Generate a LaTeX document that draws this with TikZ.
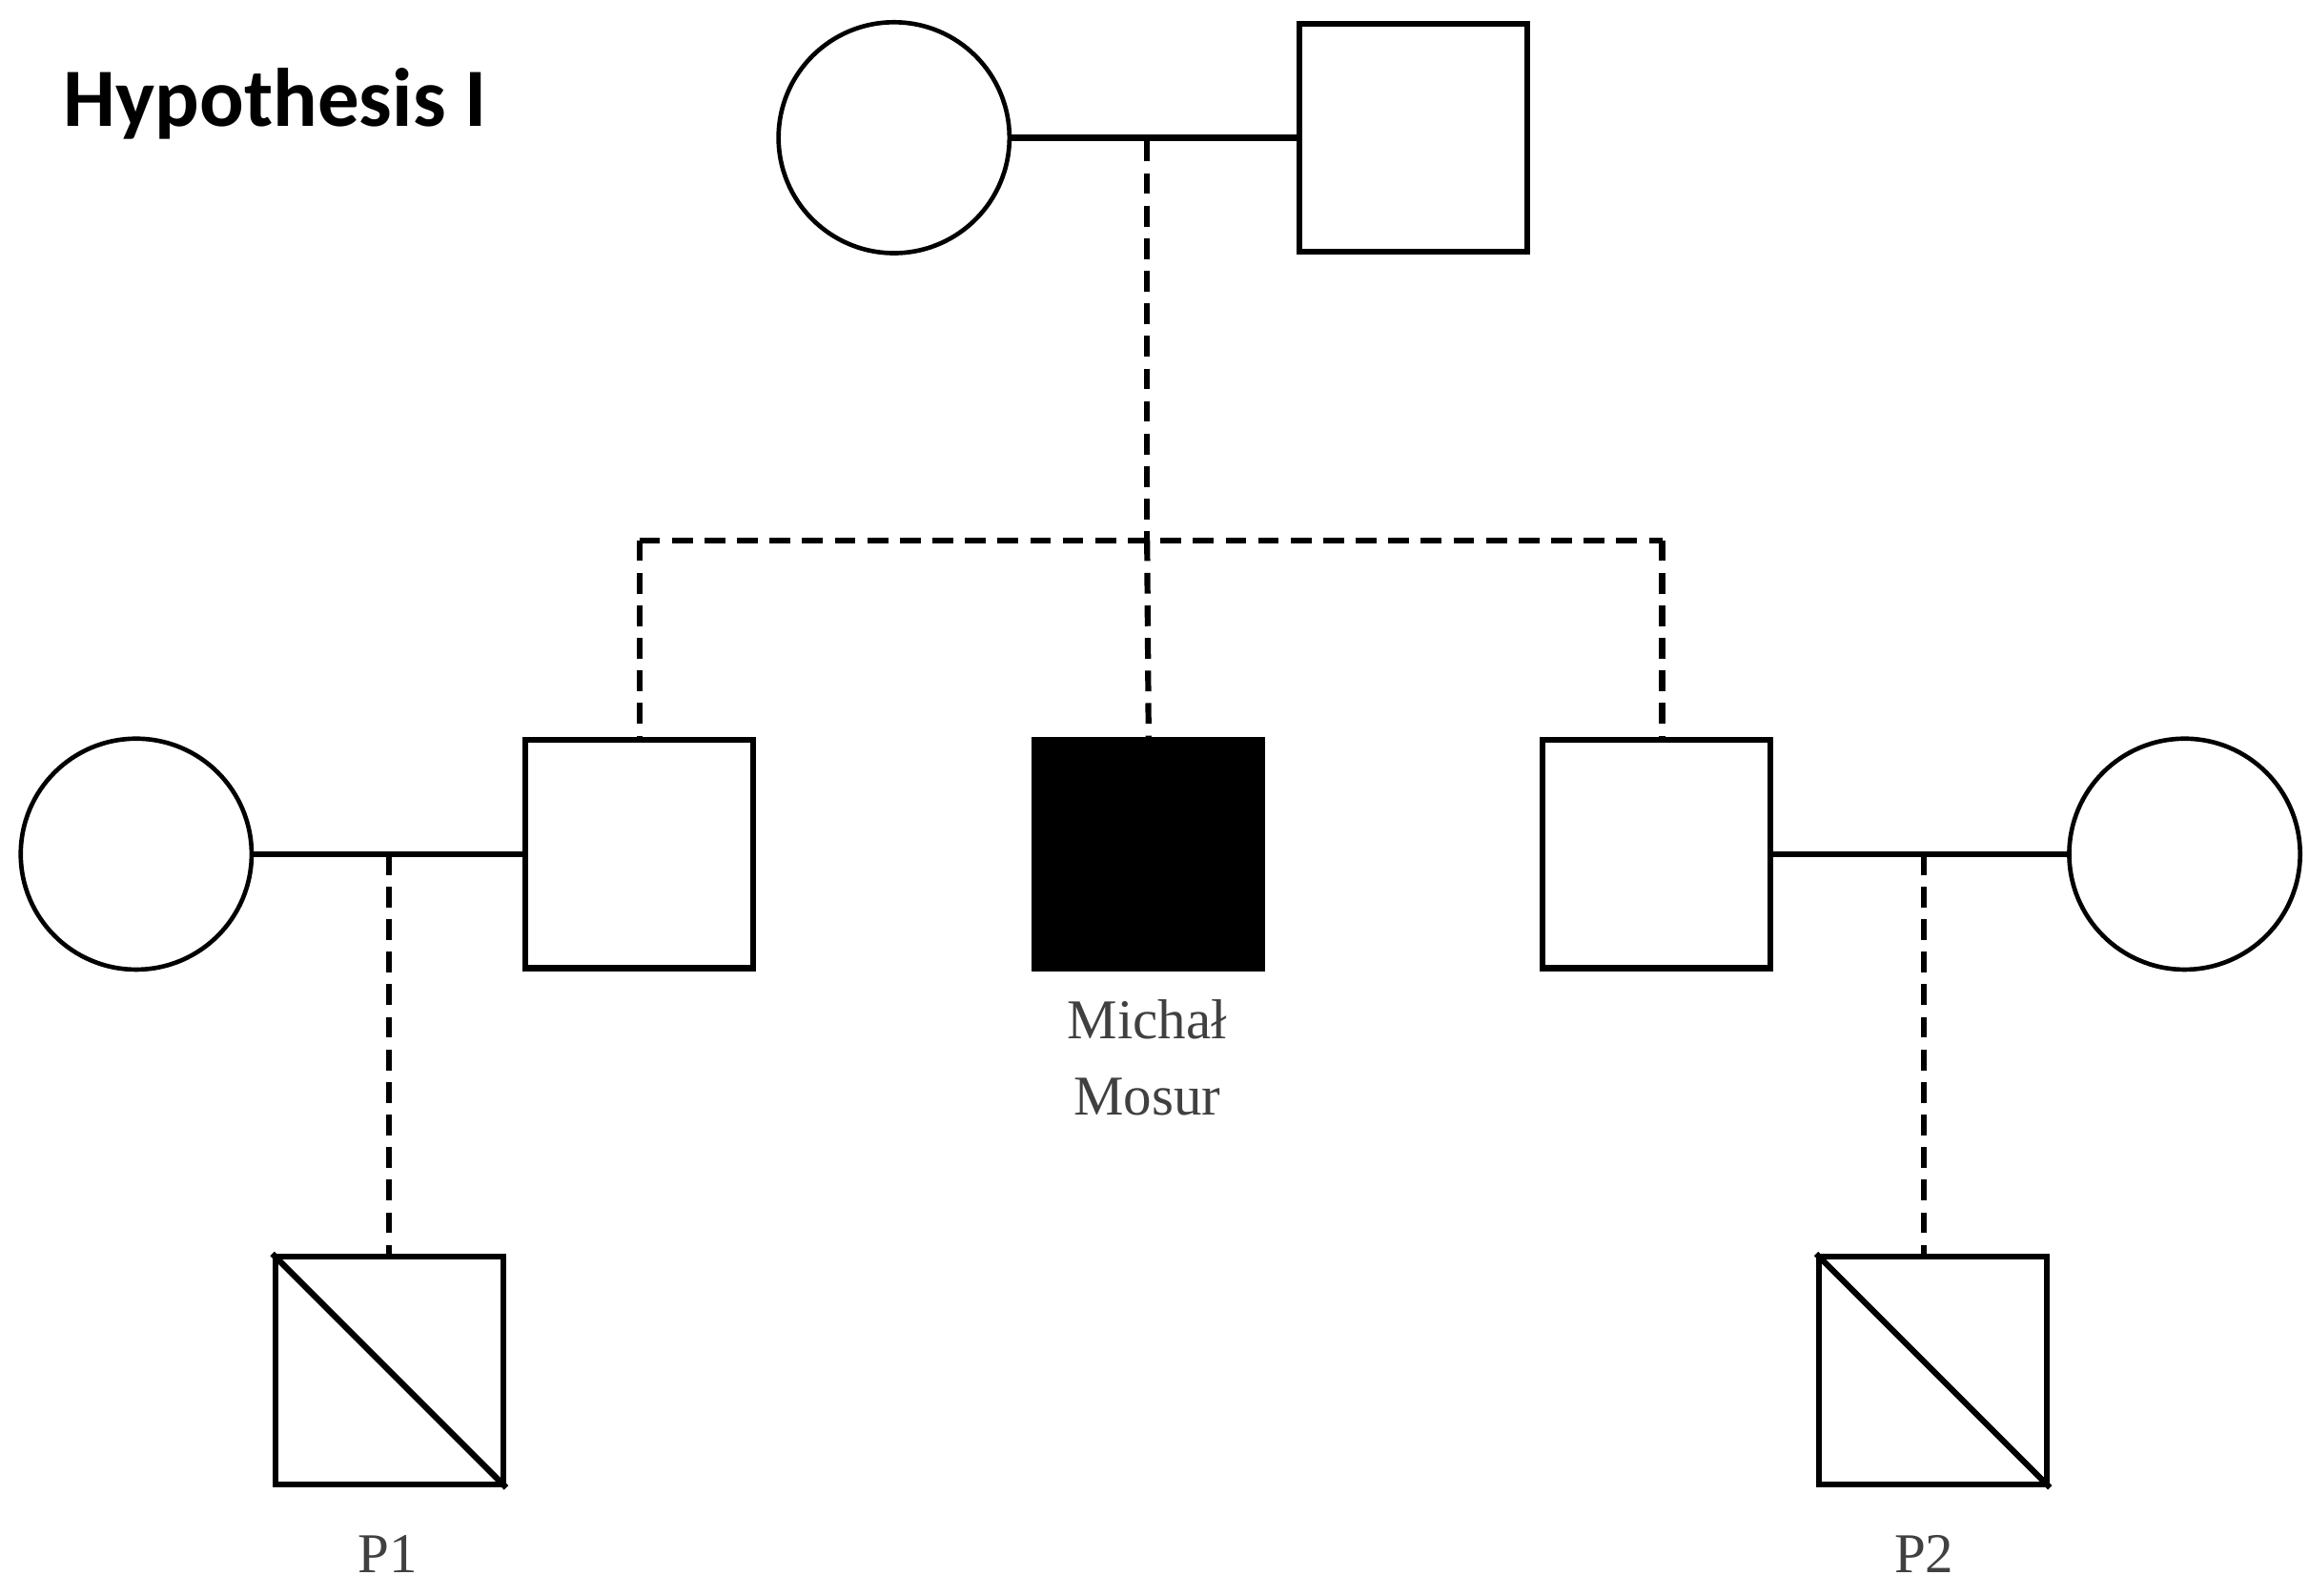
\documentclass[tikz,border=0pt]{standalone}
\usepackage{fontspec}
\setmainfont{Liberation Serif}
\newfontfamily\titlefont{Carlito}
\begin{document}
\begin{tikzpicture}[x=0.5pt,y=-0.5pt,
  ln/.style={line width=2pt},
  dl/.style={line width=2pt,dash pattern=on 7pt off 4pt},
  sq/.style={draw,line width=2pt,minimum size=77pt,inner sep=0pt},
  ci/.style={draw,circle,line width=1.5pt,minimum size=78pt,inner sep=0pt},
  lab/.style={font=\fontsize{19}{26}\selectfont,text=black!75,align=center}]
\useasboundingbox (0,0) rectangle (1560,1078);
\node[font=\titlefont\bfseries\fontsize{28}{32}\selectfont,anchor=west] (title) at (36,70) {Hypothesis I};
\node[ci] (gm) at (604,93) {};
\node[sq] (gf) at (955,93) {};
\coordinate (m0) at (775,95);
\draw[ln] (gm) -- (gf);
\coordinate (h0) at (775,365);
\coordinate (hl) at (432,365);
\coordinate (hr) at (1123,365);
\draw[dl] (m0) -- (h0);
\draw[dl] (hl) -- (hr);
\node[ci] (lw) at (92,577) {};
\node[sq] (ls) at (432,577) {};
\node[sq,fill=black] (mm) at (776,577) {};
\node[sq] (rs) at (1119,577) {};
\node[ci] (rw) at (1476,577) {};
\draw[dl] (hl) -- (ls.north);
\draw[dl] (775,365) -- (mm.north);
\draw[dl] (hr) -- (rs.north -| hr);
\draw[ln] (lw) -- (ls);
\draw[ln] (rs) -- (rw);
\node[lab,anchor=north] (mml) at (775,668) {Michał\\Mosur};
\node[sq] (p1) at (263,926) {};
\node[sq] (p2) at (1306,926) {};
\draw[ln] (p1.north west) -- (p1.south east);
\draw[ln] (p2.north west) -- (p2.south east);
\coordinate (c1) at (263,577);
\coordinate (c2) at (1300,577);
\draw[dl] (c1) -- (p1.north);
\draw[dl] (c2) -- (p2.north -| c2);
\node[lab] (l1) at (262,1050) {P1};
\node[lab] (l2) at (1300,1050) {P2};
\end{tikzpicture}
\end{document}
